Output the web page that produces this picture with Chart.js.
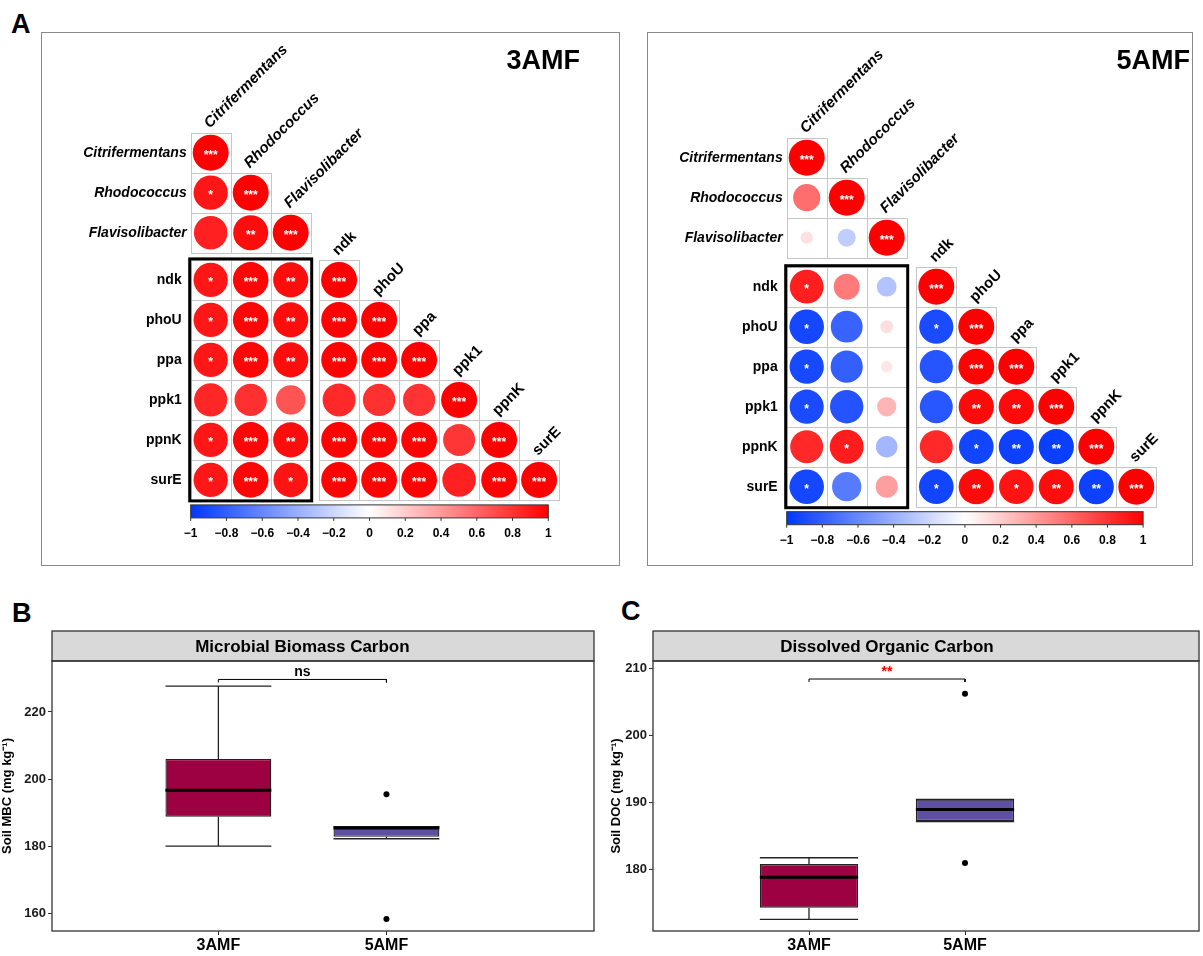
<!DOCTYPE html>
<html>
<head>
<meta charset="utf-8">
<script src="https://cdn.jsdelivr.net/npm/chart.js@4.4.1/dist/chart.umd.min.js"></script>
<style>
  body { margin: 0; width: 1203px; height: 956px; position: relative; overflow: hidden; background: #fff; font-family: "Liberation Sans", Arial, sans-serif; }
  .tag { position: absolute; font-size: 27px; font-weight: bold; line-height: 1; }
  canvas { position: absolute; }
</style>
</head>
<body>
<div class="tag" style="left:11px;top:11px">A</div>
<div class="tag" style="left:12px;top:600px">B</div>
<div class="tag" style="left:621px;top:598px">C</div>
<canvas id="c3" width="579" height="534" style="left:41px;top:32px"></canvas>
<canvas id="c5" width="546" height="534" style="left:647px;top:32px"></canvas>
<canvas id="mbc" width="598" height="326" style="left:0px;top:630px"></canvas>
<canvas id="doc" width="594" height="326" style="left:609px;top:630px"></canvas>
<script>
const FONT = '"Liberation Sans", Arial, sans-serif';
Chart.defaults.font.family = FONT;
Chart.defaults.color = '#000';

// ---- correlation data (lower triangle, row i holds columns 0..i)
const taxa = ['Citrifermentans', 'Rhodococcus', 'Flavisolibacter'];
const genes = ['ndk', 'phoU', 'ppa', 'ppk1', 'ppnK', 'surE'];
const labels = taxa.concat(genes);

const r3AMF = [
  [1],
  [0.91, 1],
  [0.87, 0.95, 1],
  [0.91, 0.98, 0.95, 1],
  [0.91, 0.98, 0.95, 0.99, 1],
  [0.91, 0.98, 0.95, 0.99, 0.99, 1],
  [0.85, 0.81, 0.67, 0.84, 0.81, 0.80, 1],
  [0.91, 0.98, 0.95, 0.99, 0.99, 0.99, 0.79, 1],
  [0.91, 0.98, 0.92, 0.99, 0.99, 0.99, 0.87, 0.99, 1]
];
const sig3AMF = [
  ['***'],
  ['*', '***'],
  ['', '**', '***'],
  ['*', '***', '**', '***'],
  ['*', '***', '**', '***', '***'],
  ['*', '***', '**', '***', '***', '***'],
  ['', '', '', '', '', '', '***'],
  ['*', '***', '**', '***', '***', '***', '', '***'],
  ['*', '***', '*', '***', '***', '***', '', '***', '***']
];

const r5AMF = [
  [1],
  [0.57, 1],
  [0.12, -0.25, 1],
  [0.88, 0.52, -0.30, 1],
  [-0.92, -0.78, 0.13, -0.90, 1],
  [-0.91, -0.80, 0.10, -0.85, 0.99, 1],
  [-0.90, -0.86, 0.29, -0.84, 0.96, 0.96, 1],
  [0.84, 0.89, -0.36, 0.84, -0.93, -0.95, -0.96, 1],
  [-0.92, -0.66, 0.38, -0.93, 0.96, 0.92, 0.95, -0.95, 1]
];
const sig5AMF = [
  ['***'],
  ['', '***'],
  ['', '', '***'],
  ['*', '', '', '***'],
  ['*', '', '', '*', '***'],
  ['*', '', '', '', '***', '***'],
  ['*', '', '', '', '**', '**', '***'],
  ['', '*', '', '', '*', '**', '**', '***'],
  ['*', '', '', '*', '**', '*', '**', '**', '***']
];

const cbTicks = [-1, -0.8, -0.6, -0.4, -0.2, 0, 0.2, 0.4, 0.6, 0.8, 1];
const cbLabels = ['\u22121', '\u22120.8', '\u22120.6', '\u22120.4', '\u22120.2', '0', '0.2', '0.4', '0.6', '0.8', '1'];

// ---- boxplot data
const groups = ['3AMF', '5AMF'];
const groupFill = ['#9E0142', '#5E4FA2'];

const mbcQ1 = [188.8, 182.8];
const mbcMed = [196.7, 185.4];
const mbcQ3 = [206.0, 185.8];
const mbcLo = [180.0, 182.2];
const mbcHi = [227.7, 185.8];
const mbcOut = [[], [195.5, 158.3]];
const mbcTicks = [160, 180, 200, 220];

const docQ1 = [174.25, 187.2];
const docMed = [178.8, 188.9];
const docQ3 = [180.75, 190.4];
const docLo = [172.5, 187.1];
const docHi = [181.7, 190.4];
const docOut = [[], [206.2, 180.9]];
const docTicks = [180, 190, 200, 210];

const boxWidth = 0.63;

function pos(i, gap) {
  return i + (i >= taxa.length ? gap : 0);
}

function corrColor(v) {
  const neg = [0, 55, 255], posc = [255, 0, 0];
  const c = v < 0 ? neg : posc, t = Math.min(1, Math.abs(v));
  const m = k => Math.round(255 + (c[k] - 255) * t);
  return 'rgb(' + m(0) + ',' + m(1) + ',' + m(2) + ')';
}

function corrPanel(id, title, r, sig, lay) {
  const pts = [];
  r.forEach((row, i) => row.forEach((v, j) => {
    pts.push({x: pos(j, lay.gx) + 0.5, y: pos(i, lay.gy) + 0.5, v: v, s: sig[i][j]});
  }));
  const cellPx = ch => ch.scales.x.getPixelForValue(1) - ch.scales.x.getPixelForValue(0);

  const deco = {
    id: 'deco',
    beforeDatasetsDraw(ch) {
      const ctx = ch.ctx, xs = ch.scales.x, ys = ch.scales.y, c = cellPx(ch);
      ctx.save();
      ctx.strokeStyle = '#8a8a8a';
      ctx.lineWidth = 1;
      ctx.strokeRect(0.5, 0.5, ch.width - 1, ch.height - 1);

      // cell outlines
      ctx.strokeStyle = '#c6c6c6';
      r.forEach((row, i) => row.forEach((v, j) => {
        const x0 = Math.round(xs.getPixelForValue(pos(j, lay.gx))) + 0.5;
        const y0 = Math.round(ys.getPixelForValue(pos(i, lay.gy))) + 0.5;
        ctx.strokeRect(x0, y0, Math.round(c), Math.round(c));
      }));

      // row labels
      ctx.fillStyle = '#000';
      ctx.textBaseline = 'middle';
      ctx.textAlign = 'right';
      labels.forEach((lab, i) => {
        const it = i < taxa.length;
        ctx.font = (it ? 'italic bold ' : 'bold ') + '14px ' + FONT;
        ctx.fillText(lab, xs.getPixelForValue(0) - (it ? 4 : 9), ys.getPixelForValue(pos(i, lay.gy) + 0.5));
      });

      // column labels on the diagonal
      ctx.textAlign = 'left';
      ctx.textBaseline = 'alphabetic';
      labels.forEach((lab, j) => {
        ctx.font = (j < taxa.length ? 'italic bold ' : 'bold ') + '15px ' + FONT;
        ctx.save();
        ctx.translate(xs.getPixelForValue(pos(j, lay.gx) + 0.5) - 1, ys.getPixelForValue(pos(j, lay.gy)) - 4);
        ctx.rotate(-Math.PI / 4);
        ctx.fillText(lab, 0, 0);
        ctx.restore();
      });

      // colour bar
      const yb = ys.getPixelForValue(pos(labels.length - 1, lay.gy) + 1) + 5;
      const xl = xs.getPixelForValue(0), xr = xs.getPixelForValue(lay.cbEnd);
      const g = ctx.createLinearGradient(xl, 0, xr, 0);
      g.addColorStop(0, corrColor(-1));
      g.addColorStop(0.5, '#ffffff');
      g.addColorStop(1, corrColor(1));
      ctx.fillStyle = g;
      ctx.fillRect(xl, yb, xr - xl, 13);
      ctx.strokeStyle = '#333';
      ctx.strokeRect(xl, yb, xr - xl, 13);
      ctx.fillStyle = '#000';
      ctx.font = 'bold 12px ' + FONT;
      ctx.textAlign = 'center';
      ctx.textBaseline = 'middle';
      cbTicks.forEach((t, k) => {
        const x = xl + (t + 1) / 2 * (xr - xl);
        ctx.beginPath();
        ctx.moveTo(x, yb + 13);
        ctx.lineTo(x, yb + 16);
        ctx.stroke();
        ctx.fillText(cbLabels[k], x, yb + 29);
      });

      // panel title
      ctx.font = 'bold 27px ' + FONT;
      ctx.textAlign = 'right';
      ctx.fillText(title, lay.titleX, 30);
      ctx.restore();
    },
    afterDatasetsDraw(ch) {
      const ctx = ch.ctx, xs = ch.scales.x, ys = ch.scales.y;
      ctx.save();
      // box around taxa x genes block
      const bx0 = xs.getPixelForValue(0), bx1 = xs.getPixelForValue(pos(taxa.length - 1, lay.gx) + 1);
      const by0 = ys.getPixelForValue(pos(taxa.length, lay.gy)), by1 = ys.getPixelForValue(pos(labels.length - 1, lay.gy) + 1);
      ctx.strokeStyle = '#000';
      ctx.lineWidth = 3;
      ctx.strokeRect(bx0 - 1, by0 - 1, bx1 - bx0 + 2, by1 - by0 + 2);
      // significance stars
      ctx.fillStyle = '#fff';
      ctx.font = 'bold 12px ' + FONT;
      ctx.textAlign = 'center';
      ctx.textBaseline = 'middle';
      pts.forEach(p => {
        if (p.s) ctx.fillText(p.s, xs.getPixelForValue(p.x), ys.getPixelForValue(p.y) + 3);
      });
      ctx.restore();
    }
  };

  new Chart(document.getElementById(id), {
    type: 'scatter',
    data: {
      datasets: [{
        data: pts,
        pointBackgroundColor: c => corrColor(pts[c.dataIndex] ? pts[c.dataIndex].v : 0),
        pointBorderWidth: 0,
        pointBorderColor: 'rgba(0,0,0,0)',
        pointRadius: c => {
          const p = pts[c.dataIndex];
          return p ? 0.45 * cellPx(c.chart) * Math.sqrt(Math.abs(p.v)) : 0;
        },
        showLine: false,
        clip: false
      }]
    },
    options: {
      responsive: false,
      animation: false,
      events: [],
      layout: {padding: 0},
      plugins: {legend: {display: false}, tooltip: {enabled: false}},
      scales: {
        x: {type: 'linear', display: false, min: lay.xmin, max: lay.xmax, bounds: 'data'},
        y: {type: 'linear', display: false, min: lay.ymin, max: lay.ymax, bounds: 'data', reverse: true}
      }
    },
    plugins: [deco]
  });
}

function boxPanel(id, o) {
  const hw = boxWidth / 2;
  const box = groups.map((g, i) => ({x: i + 1, y: [o.q1[i], o.q3[i]]}));
  const med = [], whisk = [], out = [];
  groups.forEach((g, i) => {
    const x = i + 1;
    med.push({x: x - hw, y: o.med[i]}, {x: x + hw, y: o.med[i]}, {x: x, y: null});
    whisk.push(
      {x: x, y: o.q3[i]}, {x: x, y: o.hi[i]}, {x: x, y: null},
      {x: x, y: o.q1[i]}, {x: x, y: o.lo[i]}, {x: x, y: null},
      {x: x - hw, y: o.hi[i]}, {x: x + hw, y: o.hi[i]}, {x: x, y: null},
      {x: x - hw, y: o.lo[i]}, {x: x + hw, y: o.lo[i]}, {x: x, y: null}
    );
    o.out[i].forEach(v => out.push({x: x, y: v}));
  });
  const bracket = [{x: 1, y: o.brLo}, {x: 1, y: o.br}, {x: 2, y: o.br}, {x: 2, y: o.brLo}];

  const frame = {
    id: 'frame',
    beforeDraw(ch) {
      const ctx = ch.ctx, a = ch.chartArea;
      ctx.save();
      ctx.fillStyle = '#d9d9d9';
      ctx.fillRect(a.left, a.top - 30, a.right - a.left, 30);
      ctx.strokeStyle = '#333';
      ctx.lineWidth = 1.3;
      ctx.strokeRect(a.left, a.top - 30, a.right - a.left, 30);
      ctx.fillStyle = '#000';
      ctx.font = 'bold 17px ' + FONT;
      ctx.textAlign = 'center';
      ctx.textBaseline = 'middle';
      ctx.fillText(o.title, ch.scales.x.getPixelForValue(1.5), a.top - 14);
      ctx.restore();
    },
    afterDraw(ch) {
      const ctx = ch.ctx, a = ch.chartArea;
      ctx.save();
      ctx.strokeStyle = '#333';
      ctx.lineWidth = 1.3;
      ctx.strokeRect(a.left, a.top, a.right - a.left, a.bottom - a.top);
      ctx.fillStyle = o.sigColor;
      ctx.font = 'bold 14px ' + FONT;
      ctx.textAlign = 'center';
      ctx.textBaseline = 'bottom';
      ctx.fillText(o.sig, ch.scales.x.getPixelForValue(1.5), ch.scales.y.getPixelForValue(o.br) - o.sigLift);
      ctx.restore();
    }
  };

  new Chart(document.getElementById(id), {
    type: 'bar',
    data: {
      datasets: [
        {type: 'bar', data: box, backgroundColor: groupFill, borderColor: '#222', borderWidth: 1.3,
         borderSkipped: false, categoryPercentage: 1, barPercentage: boxWidth, order: 3},
        {type: 'line', data: whisk, borderColor: '#222', borderWidth: 1.3, pointRadius: 0, order: 4},
        {type: 'line', data: med, borderColor: '#000', borderWidth: 3, pointRadius: 0, order: 1},
        {type: 'scatter', data: out, backgroundColor: '#000', borderWidth: 0, pointRadius: 3, order: 0},
        {type: 'line', data: bracket, borderColor: '#000', borderWidth: 1, pointRadius: 0, order: 0}
      ]
    },
    options: {
      responsive: false,
      animation: false,
      events: [],
      layout: {padding: {top: 31, right: 1, left: 0, bottom: 0}},
      plugins: {legend: {display: false}, tooltip: {enabled: false}},
      scales: {
        x: {
          type: 'linear', min: o.xmin, max: o.xmax, offset: false, bounds: 'data',
          afterBuildTicks: s => { s.ticks = groups.map((g, i) => ({value: i + 1})); },
          afterFit: s => { s.height = 25; },
          ticks: {callback: v => groups[Math.round(v) - 1], font: {size: 16, weight: 'bold'}, color: '#000',
                  padding: 1, maxRotation: 0, autoSkip: false},
          grid: {offset: false, drawOnChartArea: false, tickLength: 4, color: '#333'},
          border: {display: false}
        },
        y: {
          type: 'linear', min: o.ymin, max: o.ymax, bounds: 'data',
          afterBuildTicks: s => { s.ticks = o.ticks.map(v => ({value: v})); },
          afterFit: s => { s.width = o.yw; },
          ticks: {font: {size: 13, weight: 'bold'}, color: '#1a1a1a', padding: 2},
          grid: {drawOnChartArea: false, tickLength: 4, color: '#333'},
          border: {display: false},
          title: {display: true, text: o.ytitle, font: {size: 13, weight: 'bold'}, color: '#000', padding: 0}
        }
      }
    },
    plugins: [frame]
  });
}

corrPanel('c3', '3AMF', r3AMF, sig3AMF,
  {gx: 0.21, gy: 0.18, xmin: -3.7425, xmax: 10.7325, ymin: -2.5175, ymax: 10.8325, cbEnd: 8.94, titleX: 539});
corrPanel('c5', '5AMF', r5AMF, sig5AMF,
  {gx: 0.24, gy: 0.225, xmin: -3.4925, xmax: 10.1575, ymin: -2.6425, ymax: 10.7075, cbEnd: 8.91, titleX: 543});

boxPanel('mbc', {
  title: 'Microbial Biomass Carbon', ytitle: 'Soil MBC (mg kg\u207B\u00B9)',
  q1: mbcQ1, med: mbcMed, q3: mbcQ3, lo: mbcLo, hi: mbcHi, out: mbcOut, ticks: mbcTicks,
  ymin: 154.7, ymax: 235.2, xmin: 0.01, xmax: 3.235, yw: 52,
  br: 229.7, brLo: 228.8, sig: 'ns', sigColor: '#000', sigLift: 0
});
boxPanel('doc', {
  title: 'Dissolved Organic Carbon', ytitle: 'Soil DOC (mg kg\u207B\u00B9)',
  q1: docQ1, med: docMed, q3: docQ3, lo: docLo, hi: docHi, out: docOut, ticks: docTicks,
  ymin: 170.76, ymax: 211.09, xmin: 0, xmax: 3.5, yw: 44,
  br: 208.4, brLo: 207.95, sig: '**', sigColor: '#ff0000', sigLift: 0
});
</script>
</body>
</html>
